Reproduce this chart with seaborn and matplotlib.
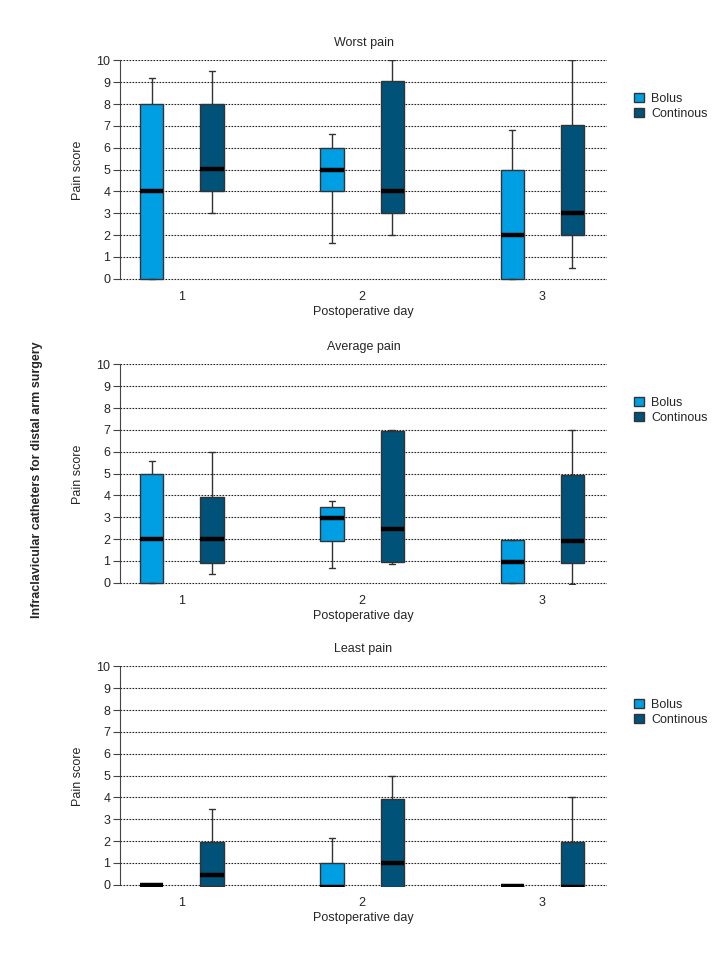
import pandas as pd
import matplotlib
matplotlib.use("Agg")
import matplotlib.pyplot as plt
import seaborn as sns

# five-number summaries: [min, q1, median, q3, max] per day
days = ["1", "2", "3"]
groups = ["Bolus", "Continous"]
panels = ["Worst pain", "Average pain", "Least pain"]

worst_bolus = [[0, 0, 4, 8, 9.2], [1.65, 4, 5, 6, 6.65], [0, 0, 2, 5, 6.8]]
worst_cont = [[3, 4, 5.05, 8, 9.5], [2, 3, 4, 9.05, 10], [0.5, 2, 3, 7.05, 10]]
avg_bolus = [[0, 0, 2, 5, 5.6], [0.7, 1.9, 2.95, 3.45, 3.75], [0, 0, 0.95, 1.95, 1.95]]
avg_cont = [[0.4, 0.9, 2, 3.95, 6], [0.85, 0.95, 2.45, 6.95, 7.0], [-0.05, 0.9, 1.9, 4.95, 7.0]]
least_bolus = [[0, 0, 0, 0, 0], [-0.1, -0.1, -0.1, 1.0, 2.15], [-0.07, -0.07, -0.07, -0.07, -0.07]]
least_cont = [[-0.05, -0.05, 0.45, 1.95, 3.45], [-0.1, -0.1, 1.0, 3.95, 5.0], [-0.1, -0.1, -0.1, 1.95, 4.0]]

panel_data = {
    "Worst pain": (worst_bolus, worst_cont),
    "Average pain": (avg_bolus, avg_cont),
    "Least pain": (least_bolus, least_cont),
}

colors = {"Bolus": "#009FE3", "Continous": "#005279"}

sns.set_style("white")
plt.rcParams["font.family"] = ["Liberation Sans Narrow", "Liberation Sans", "DejaVu Sans"]

fig = plt.figure(figsize=(7.2, 9.6), dpi=100)

tops = [60, 364, 666]
for panel, top in zip(panels, tops):
    bolus, cont = panel_data[panel]
    rows = []
    for grp, vals in zip(groups, [bolus, cont]):
        for day, five in zip(days, vals):
            for v in five:
                rows.append({"day": day, "group": grp, "score": v})
    df = pd.DataFrame(rows)

    ax = fig.add_axes([120 / 720, 1 - (top + 221) / 960, 487 / 720, 221 / 960])

    sns.boxplot(data=df, x="day", y="score", hue="group", order=days,
                hue_order=groups, palette=colors, saturation=1, whis=(0, 100),
                width=0.667, gap=0.615, linewidth=1.0, linecolor="#333333",
                fliersize=0, medianprops={"color": "black", "linewidth": 3.2},
                capprops={"color": "#333333"}, ax=ax)

    # shorter whisker caps, about half the box width
    for cont_ in ax.containers:
        for cap in getattr(cont_, "caps", []):
            x0, x1 = cap.get_xdata()
            mid, half = (x0 + x1) / 2, (x1 - x0) / 2
            cap.set_xdata([mid - half * 0.5, mid + half * 0.5])

    ax.set_ylim(-0.1, 10.02)
    ax.set_xlim(-0.344, 2.36)
    ax.set_yticks(range(0, 11))
    ax.yaxis.grid(True, linestyle=(0, (1.5, 1.2)), color="#222222", linewidth=0.8)
    ax.xaxis.grid(False)
    ax.set_axisbelow(True)
    for s in ["top", "right", "bottom"]:
        ax.spines[s].set_visible(False)
    ax.spines["left"].set_color("#444444")
    ax.spines["left"].set_bounds(0, 10)
    ax.tick_params(axis="y", left=True, length=5, width=0.8, color="#444444",
                   labelsize=9, pad=2)
    ax.tick_params(axis="x", bottom=False, labelsize=9, pad=4)
    ax.set_title(panel, fontsize=9, pad=10)
    ax.set_xlabel("Postoperative day", fontsize=9, labelpad=2)
    ax.set_ylabel("Pain score", fontsize=9, labelpad=9)

    handles, labels = ax.get_legend_handles_labels()
    ax.legend(handles, labels, loc="upper left", bbox_to_anchor=(1.045, 0.875),
              frameon=False, fontsize=9, handlelength=0.8, handleheight=0.8,
              handletextpad=0.6, labelspacing=0.25, borderaxespad=0)

fig.text(37 / 720, 0.5, "Infraclavicular catheters for distal arm surgery",
         rotation=90, va="center", ha="center", fontsize=9, fontweight="bold")

fig.savefig("out.png", dpi=100)
